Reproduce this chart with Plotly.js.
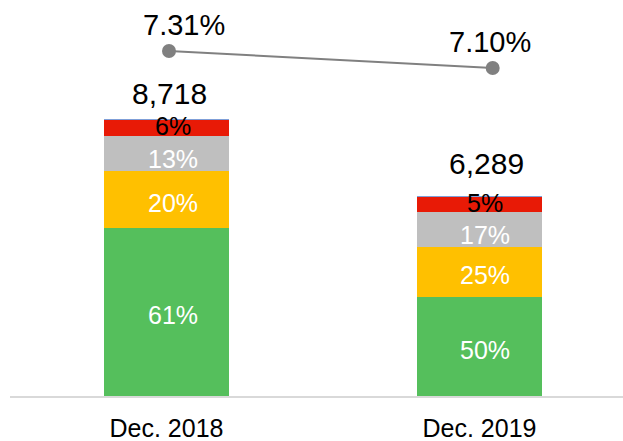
<!DOCTYPE html>
<html>
<head>
<meta charset="utf-8">
<script src="https://cdn.plot.ly/plotly-3.0.1.min.js"></script>
<style>html,body{margin:0;padding:0;background:#fff;}#chart{width:623px;height:441px;}</style>
</head>
<body>
<div id="chart"></div>
<script>
// ---- data ----
const categories = ['Dec. 2018', 'Dec. 2019'];
const greenVals  = [5287, 3113];
const yellowVals = [1794, 1572];
const grayVals   = [1102, 1101];
const redVals    = [504, 472];
const blueVals   = [31, 31];
const totals     = [8718, 6289];
const greenPct   = ['61%', '50%'];
const yellowPct  = ['20%', '25%'];
const grayPct    = ['13%', '17%'];
const redPct     = ['6%', '5%'];
const ratioVals  = [7.31, 7.10];
const ratioLabels = ['7.31%', '7.10%'];
const totalLabels = ['8,718', '6,289'];

// ---- chart ----
const FONT = 'Liberation Sans, Arial, sans-serif';
const series = [
  {vals: greenVals,  color: '#55BF5C', labels: greenPct,  tcolor: '#ffffff', dy: -3},
  {vals: yellowVals, color: '#FFC000', labels: yellowPct, tcolor: '#ffffff', dy: -3},
  {vals: grayVals,   color: '#BFBFBF', labels: grayPct,   tcolor: '#ffffff', dy: -5},
  {vals: redVals,    color: '#E81A06', labels: redPct,    tcolor: '#000000', dy: 2},
  {vals: blueVals,   color: '#7F9FD8', labels: null,      tcolor: '#000000', dy: 0}
];

const traces = series.map(s => ({
  type: 'bar', x: categories, y: s.vals, marker: {color: s.color, line: {width: 0}},
  width: 0.4, hoverinfo: 'skip', showlegend: false
}));

traces.push({
  type: 'scatter', mode: 'lines+markers', x: categories, y: ratioVals,
  xaxis: 'x2', yaxis: 'y2',
  line: {color: '#808080', width: 2}, marker: {color: '#808080', size: 14},
  showlegend: false, hoverinfo: 'skip'
});

const annotations = [];
categories.forEach((c, i) => {
  let base = 0;
  series.forEach(s => {
    const mid = base + s.vals[i] / 2;
    base += s.vals[i];
    if (s.labels) {
      annotations.push({x: c, y: mid, xref: 'x', yref: 'y', text: s.labels[i], showarrow: false,
        xshift: 6, yshift: s.dy, yanchor: 'middle', borderpad: 0,
        font: {family: FONT, size: 25, color: s.tcolor}});
    }
  });
  annotations.push({x: c, y: totals[i], xref: 'x', yref: 'y', text: totalLabels[i], showarrow: false,
    yanchor: 'middle', xshift: 3 + i * 4, yshift: i === 0 ? 25 : 33,
    font: {family: FONT, size: 30, color: '#000000'}});
  annotations.push({x: c, y: ratioVals[i], xref: 'x2', yref: 'y2', text: ratioLabels[i], showarrow: false,
    yanchor: 'middle', xshift: i === 0 ? 15 : -3, yshift: 26,
    font: {family: FONT, size: 29, color: '#000000'}});
});

const layout = {
  width: 623, height: 441,
  margin: {l: 10, r: 0, t: 0, b: 45},
  paper_bgcolor: '#ffffff', plot_bgcolor: '#ffffff',
  barmode: 'stack', bargap: 0.6,
  showlegend: false,
  xaxis: {type: 'category', range: [-0.5, 1.4585], showgrid: false, zeroline: false,
    showline: true, linecolor: '#D9D9D9', linewidth: 2, ticks: '', ticklabelstandoff: 9,
    tickfont: {family: FONT, size: 25, color: '#000000'}, fixedrange: true},
  xaxis2: {type: 'category', overlaying: 'x', range: [-0.4912, 1.4026], visible: false},
  yaxis: {range: [0, 12463], visible: false, showgrid: false, zeroline: false},
  yaxis2: {overlaying: 'y', range: [3.048, 7.94], visible: false},
  annotations: annotations
};

Plotly.newPlot('chart', traces, layout, {staticPlot: true, displayModeBar: false});
</script>
</body>
</html>
